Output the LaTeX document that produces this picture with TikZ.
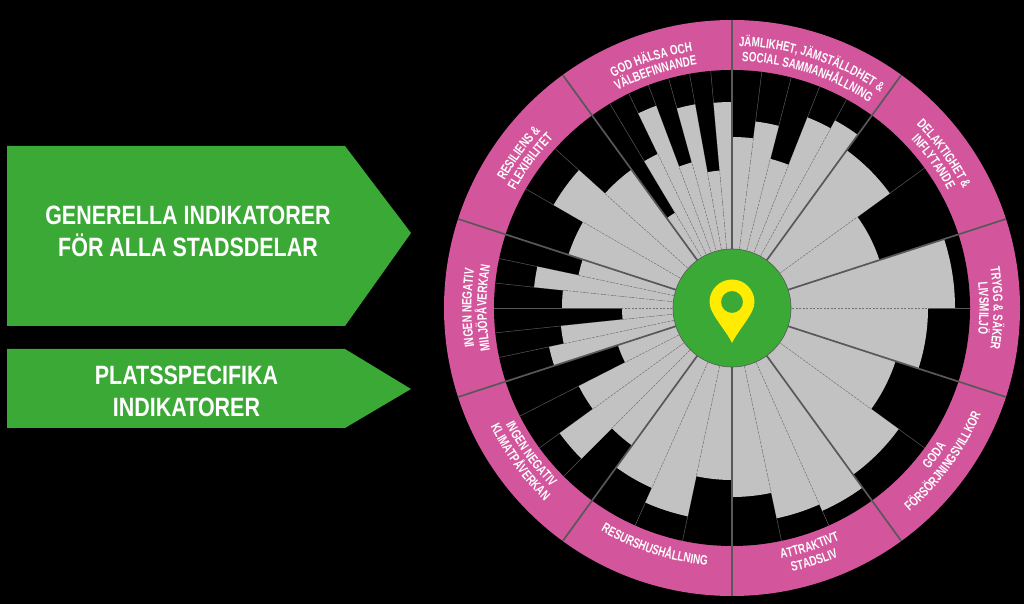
\documentclass[tikz,border=0pt]{standalone}
\usepackage{fontspec}
\usepackage{tikz}
\usetikzlibrary{decorations.text}
\newfontfamily\wheelfont[FakeStretch=0.73]{Liberation Sans Bold}
\newfontfamily\boxfont[FakeStretch=0.81]{Liberation Sans Bold}
\definecolor{wheelpink}{HTML}{D3569C}
\definecolor{boxgreen}{HTML}{3AA935}
\definecolor{petalgrey}{HTML}{C2C2C2}
\definecolor{pinyellow}{HTML}{FFEC00}
\definecolor{rulegrey}{HTML}{58585A}
\tikzset{
	boxlabel/.style = {text = white, align = center, font = \boxfont\fontsize{26.5}{32}\selectfont},
	divider/.style = {draw = rulegrey, line width = 1.7pt},
	tick/.style = {draw = rulegrey, line width = 0.5pt},
	dash line/.style = {draw = black!55, line width = 0.5pt, dash pattern = on 2pt off 1.5pt},
}
\catcode`\&=12
% one line of a sector label, running along an arc
\newcommand{\arclabel}[4]{
	\path[decorate, decoration = {text along path, text align = center,
		text = {|\wheelfont\fontsize{13.5}{13.5}\selectfont\color{white}|#4}}]
		(#1:#3) arc (#1:#2:#3);
}

\begin{document}
\begin{tikzpicture}[x = 1pt, y = 1pt]
	\useasboundingbox[fill = black] (0, 0) rectangle (1024, 604);
	\fill[boxgreen] (7, 458) -- (345, 458) -- (411, 371) -- (345, 278) -- (7, 278) -- cycle;
	\fill[boxgreen] (7, 255) -- (345, 255) -- (411, 215) -- (345, 176) -- (7, 176) -- cycle;
	\node[boxlabel] (general) at (188, 372.5) {GENERELLA INDIKATORER\\FÖR ALLA STADSDELAR};
	\node[boxlabel] (specific) at (186.5, 212.5) {PLATSSPECIFIKA\\INDIKATORER};
	\begin{scope}[shift = {(732, 296)}]
		\fill[wheelpink] (0, 0) circle (288);
		\fill[black] (0, 0) circle (238);
		% thin rules, seen on the black part
		\foreach \a in {82.8, 75.6, 68.4, 61.2, 36, 0, -36, -66, -78, -102, -114, -135, -144, -153, -168, -174, 180, 174, 168, 150, 138, 120.86, 115.71, 110.57, 105.43, 100.29, 95.14}
			\draw[tick] (\a:60) -- (\a:238);
		% start angle/end angle/radius
		\foreach \a/\b/\r in {90/82.8/171, 82.8/75.6/188, 75.6/68.4/154, 68.4/61.2/205, 61.2/54/214,
			54/36/195, 36/18/155,
			18/0/223, 0/-18/196,
			-18/-36/172, -36/-54/206,
			-54/-66/222, -66/-78/215, -78/-90/189,
			-90/-102/172, -102/-114/213, -114/-126/197,
			-126/-135/170, -135/-144/213, -144/-153/172, -153/-162/120,
			-162/-168/187, -168/-174/172, -174/-180/110, 180/174/170, 174/168/199, 168/162/157,
			162/150/172, 150/138/206, 138/126/171,
			126/120.86/111, 120.86/115.71/171, 115.71/110.57/216, 110.57/105.43/151, 105.43/100.29/207, 100.29/95.14/138, 95.14/90/206}
			\fill[petalgrey] (0, 0) -- (\a:\r) arc (\a:\b:\r) -- cycle;
		\foreach \a/\r in {82.8/171, 75.6/154, 68.4/154, 61.2/205, 36/155, 0/196, -36/172, -66/215, -78/189,
			-102/172, -114/197, -135/170, -144/172, -153/120, -168/172, -174/110, 180/110, 174/170, 168/157,
			150/172, 138/171, 120.86/111, 115.71/171, 110.57/151, 105.43/151, 100.29/138, 95.14/138}
			\draw[dash line] (\a:60) -- (\a:\r);
		\foreach \a in {0, 1, ..., 9}
			\draw[divider] (90 - 36 * \a:59) -- (90 - 36 * \a:288);
		\fill[boxgreen] (0, 0) circle (59);
		\draw[rulegrey, line width = 0.6pt] (0, 0) circle (59);
		% location pin
		\fill[pinyellow, even odd rule] (0, -35) .. controls (-6, -22) and (-22.5, -6) .. (-22.5, 6)
			arc (180:0:22.5) .. controls (22.5, -6) and (6, -22) .. (0, -35) -- cycle
			(11, 6) arc (0:360:11);
		% sector labels
		\arclabel{90}{54}{262}{JÄMLIKHET, JÄMSTÄLLDHET &}
		\arclabel{90}{54}{247}{SOCIAL SAMMANHÅLLNING}
		\arclabel{54}{18}{260}{DELAKTIGHET &}
		\arclabel{54}{18}{246}{INFLYTANDE}
		\arclabel{18}{-18}{261.5}{TRYGG & SÄKER}
		\arclabel{18}{-18}{247.5}{LIVSMILJÖ}
		\arclabel{-54}{-18}{270.5}{FÖRSÖRJNINGSVILLKOR}
		\arclabel{-54}{-18}{254.5}{GODA}
		\arclabel{-90}{-54}{255.5}{ATTRAKTIVT}
		\arclabel{-90}{-54}{270.5}{STADSLIV}
		\arclabel{-126}{-90}{258.5}{RESURSHUSHÅLLNING}
		\arclabel{-162}{-126}{254.5}{INGEN NEGATIV}
		\arclabel{-162}{-126}{269}{KLIMATPÅVERKAN}
		\arclabel{198}{162}{260.5}{INGEN NEGATIV}
		\arclabel{198}{162}{245.5}{MILJÖPÅVERKAN}
		\arclabel{162}{126}{260.5}{RESILIENS &}
		\arclabel{162}{126}{246.5}{FLEXIBILITET}
		\arclabel{126}{90}{259.5}{GOD HÄLSA OCH}
		\arclabel{126}{90}{245.5}{VÄLBEFINNANDE}
	\end{scope}
\end{tikzpicture}
\end{document}
